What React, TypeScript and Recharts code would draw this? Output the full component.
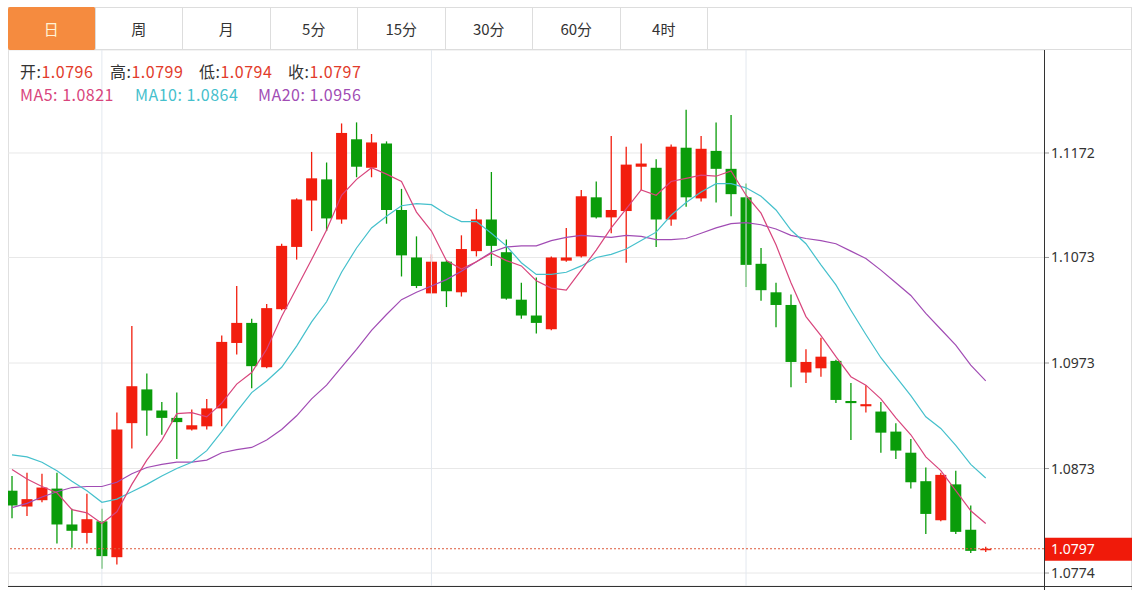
import React from "react";
import { ComposedChart, Bar, Line, XAxis, YAxis, CartesianGrid, ReferenceLine } from "recharts";

const RED = "#f21e0e";
const GREEN = "#0a9c0a";
const MA5_C = "#d8457c";
const MA10_C = "#45c0cc";
const MA20_C = "#a14cb4";

const tabs = ["日", "周", "月", "5分", "15分", "30分", "60分", "4时"];
const yTicks = [1.0774, 1.0873, 1.0973, 1.1073, 1.1172];
const monthLines = [6, 28, 49];
const lastPrice = 1.0797;

const opens = [1.0852, 1.0837, 1.0843, 1.0854, 1.0820, 1.0812, 1.0823, 1.0789, 1.0916, 1.0948,
  1.0928, 1.0921, 1.0910, 1.0913, 1.0930, 1.0992, 1.1011, 1.0969, 1.1024, 1.1083,
  1.1127, 1.1147, 1.1109, 1.1185, 1.1158, 1.1181, 1.1118, 1.1073, 1.1039, 1.1069,
  1.1040, 1.1079, 1.1109, 1.1078, 1.1033, 1.1018, 1.1005, 1.1070, 1.1074, 1.1130,
  1.1111, 1.1117, 1.1159, 1.1158, 1.1109, 1.1177, 1.1129, 1.1174, 1.1157, 1.1130,
  1.1067, 1.1040, 1.1028, 1.0964, 1.0968, 1.0975, 1.0937, 1.0932, 1.0927, 1.0908,
  1.0888, 1.0861, 1.0824, 1.0858, 1.0815, 1.0796];
const highs = [1.0866, 1.0869, 1.0868, 1.0869, 1.0835, 1.0849, 1.0835, 1.0926, 1.1008, 1.0963,
  1.0936, 1.0945, 1.0929, 1.0939, 1.0999, 1.1046, 1.1015, 1.1029, 1.1086, 1.1129,
  1.1173, 1.1163, 1.1200, 1.1201, 1.1190, 1.1183, 1.1138, 1.1093, 1.1076, 1.1070,
  1.1094, 1.1119, 1.1154, 1.1090, 1.1049, 1.1054, 1.1074, 1.1101, 1.1137, 1.1145,
  1.1188, 1.1178, 1.1181, 1.1166, 1.1180, 1.1213, 1.1188, 1.1201, 1.1208, 1.1143,
  1.1082, 1.1049, 1.1038, 1.0986, 1.0997, 1.0976, 1.0954, 1.0952, 1.0936, 1.0916,
  1.0901, 1.0874, 1.0869, 1.0871, 1.0838, 1.0799];
const lows = [1.0826, 1.0828, 1.0841, 1.0802, 1.0798, 1.0802, 1.0778, 1.0782, 1.0892, 1.0904,
  1.0905, 1.0882, 1.0909, 1.0910, 1.0913, 1.0981, 1.0949, 1.0968, 1.1023, 1.1071,
  1.1098, 1.1098, 1.1105, 1.1149, 1.1149, 1.1105, 1.1055, 1.1044, 1.1039, 1.1026,
  1.1036, 1.1074, 1.1065, 1.1033, 1.1015, 1.1001, 1.1004, 1.1069, 1.1073, 1.1110,
  1.1096, 1.1068, 1.1137, 1.1083, 1.1103, 1.1121, 1.1126, 1.1125, 1.1112, 1.1045,
  1.1032, 1.1007, 1.0950, 1.0954, 1.0960, 1.0935, 1.0900, 1.0926, 1.0888, 1.0882,
  1.0854, 1.0811, 1.0823, 1.0811, 1.0793, 1.0794];
const closes = [1.0838, 1.0844, 1.0855, 1.0820, 1.0814, 1.0825, 1.0790, 1.0910, 1.0951, 1.0928,
  1.0921, 1.0917, 1.0914, 1.0930, 1.0993, 1.1011, 1.0970, 1.1025, 1.1084, 1.1128,
  1.1148, 1.1110, 1.1191, 1.1159, 1.1182, 1.1118, 1.1075, 1.1046, 1.1069, 1.1041,
  1.1081, 1.1109, 1.1084, 1.1034, 1.1018, 1.1011, 1.1073, 1.1073, 1.1131, 1.1111,
  1.1118, 1.1161, 1.1162, 1.1109, 1.1178, 1.1130, 1.1176, 1.1157, 1.1133, 1.1066,
  1.1042, 1.1028, 1.0974, 1.0974, 1.0979, 1.0938, 1.0935, 1.0934, 1.0907, 1.0890,
  1.0860, 1.0830, 1.0867, 1.0813, 1.0795, 1.0797];
const ma5 = [1.0872, 1.0863, 1.0856, 1.0850, 1.0834, 1.0831, 1.0821, 1.0832, 1.0858, 1.0881,
  1.0900, 1.0925, 1.0926, 1.0922, 1.0935, 1.0953, 1.0964, 1.0986, 1.1017, 1.1044,
  1.1071, 1.1099, 1.1132, 1.1147, 1.1158, 1.1152, 1.1145, 1.1116, 1.1098, 1.1070,
  1.1062, 1.1069, 1.1077, 1.1070, 1.1065, 1.1051, 1.1044, 1.1042, 1.1061, 1.1080,
  1.1101, 1.1119, 1.1137, 1.1132, 1.1145, 1.1148, 1.1151, 1.1150, 1.1155, 1.1132,
  1.1115, 1.1085, 1.1049, 1.1017, 1.0999, 1.0979, 1.0960, 1.0952, 1.0939, 1.0921,
  1.0905, 1.0884, 1.0871, 1.0852, 1.0833, 1.0821];
const ma10 = [1.0886, 1.0884, 1.0879, 1.0871, 1.0861, 1.0852, 1.0841, 1.0844, 1.0851, 1.0858,
  1.0866, 1.0873, 1.0879, 1.0890, 1.0908, 1.0927, 1.0945, 1.0956, 1.0969, 1.0989,
  1.1012, 1.1031, 1.1059, 1.1082, 1.1101, 1.1112, 1.1122, 1.1124, 1.1123, 1.1114,
  1.1107, 1.1107, 1.1096, 1.1084, 1.1068, 1.1057, 1.1057, 1.1059, 1.1065, 1.1073,
  1.1076, 1.1081, 1.1089, 1.1097, 1.1113, 1.1125, 1.1135, 1.1143, 1.1143, 1.1139,
  1.1131, 1.1118, 1.1099, 1.1086, 1.1066, 1.1047, 1.1023, 1.1000, 1.0978, 1.0960,
  1.0942, 1.0922, 1.0911, 1.0895, 1.0877, 1.0864];
const ma20 = [1.0836, 1.0840, 1.0846, 1.0851, 1.0855, 1.0856, 1.0856, 1.0860, 1.0868, 1.0874,
  1.0877, 1.0879, 1.0879, 1.0881, 1.0888, 1.0891, 1.0893, 1.0900, 1.0910, 1.0923,
  1.0939, 1.0952, 1.0969, 1.0986, 1.1004, 1.1019, 1.1033, 1.1040, 1.1046, 1.1052,
  1.1060, 1.1069, 1.1078, 1.1083, 1.1084, 1.1084, 1.1089, 1.1092, 1.1094, 1.1093,
  1.1092, 1.1094, 1.1093, 1.1090, 1.1090, 1.1091, 1.1096, 1.1101, 1.1105, 1.1106,
  1.1104, 1.1100, 1.1094, 1.1091, 1.1089, 1.1086, 1.1079, 1.1072, 1.1061, 1.1049,
  1.1037, 1.1020, 1.1005, 1.0990, 1.0971, 1.0956];

const rows = opens.map((o, i) => ({
  i,
  o,
  h: highs[i],
  l: lows[i],
  c: closes[i],
  range: [lows[i], highs[i]],
  ma5: ma5[i],
  ma10: ma10[i],
  ma20: ma20[i],
}));

// eslint-disable-next-line @typescript-eslint/no-explicit-any
function Candle(props: any) {
  const { x, y, width, height, payload } = props;
  if (!payload) return null;
  const { o, h, l, c } = payload;
  const color = c >= o ? RED : GREEN;
  const top = Math.min(y, y + height);
  const span = Math.abs(height);
  const k = span / (h - l);
  const bTop = top + (h - Math.max(o, c)) * k;
  const bBot = top + (h - Math.min(o, c)) * k;
  const cx = x + width / 2;
  return (
    <g>
      <line x1={cx} x2={cx} y1={top} y2={top + span} stroke={color} strokeWidth={1.3} />
      <rect x={x} y={bTop} width={width} height={Math.max(1.5, bBot - bTop)} fill={color} />
    </g>
  );
}

// eslint-disable-next-line @typescript-eslint/no-explicit-any
function PriceTag(props: any) {
  const vb = props.viewBox;
  if (!vb) return null;
  const x0 = vb.x + vb.width + 1;
  return (
    <g>
      <rect x={x0} y={vb.y - 11} width={87} height={23} fill="#f01a0a" />
      <text x={x0 + 6} y={vb.y + 5} fill="#fff" fontSize={14} fontFamily="'Noto Sans', sans-serif">
        {lastPrice.toFixed(4)}
      </text>
    </g>
  );
}

const font = "'Noto Sans CJK SC', 'Noto Sans', sans-serif";

export default function App() {
  const ohlc = [
    ["开", opens[65]],
    ["高", highs[65]],
    ["低", lows[65]],
    ["收", closes[65]],
  ];
  const ohlcX = [20, 110, 199, 288];
  const maItems = [
    ["MA5", ma5[65], MA5_C, 20],
    ["MA10", ma10[65], MA10_C, 135],
    ["MA20", ma20[65], MA20_C, 258],
  ];
  return (
    <div style={{ position: "absolute", left: 0, top: 0, width: 1140, height: 590, background: "#fff", fontFamily: font, overflow: "hidden" }}>
      {/* tab bar */}
      <div style={{ position: "absolute", left: 8, top: 7, width: 1124, height: 43, borderTop: "1px solid #ddd", borderRight: "1px solid #ddd", borderBottom: "1px solid #ddd", boxSizing: "border-box", display: "flex" }}>
        {tabs.map((t, k) => (
          <div key={t} style={{
            width: 87.5, height: k === 0 ? 43 : 41, marginTop: k === 0 ? -1 : 0, boxSizing: "border-box",
            borderRight: "1px solid #ddd", background: k === 0 ? "#f58b3f" : "transparent",
            borderRadius: k === 0 ? 2 : 0,
            color: k === 0 ? "#fff3d6" : "#333", fontSize: 15, display: "flex", alignItems: "center", justifyContent: "center",
          }}>{t}</div>
        ))}
      </div>

      {/* frame lines */}
      <div style={{ position: "absolute", left: 8, top: 50, width: 1, height: 536, background: "#e0e0e0" }} />
      <div style={{ position: "absolute", left: 1131, top: 50, width: 1, height: 540, background: "#ddd" }} />

      <div style={{ position: "absolute", left: 8, top: 50 }}>
        <ComposedChart width={1124} height={540} data={rows} margin={{ top: 0, right: 0, bottom: 0, left: 0 }}>
          <CartesianGrid vertical={false} stroke="#e8e8e8" />
          <XAxis dataKey="i" type="number" domain={[-0.267, 68.89]} allowDataOverflow height={4} tick={false} tickLine={false} axisLine={false} />
          <YAxis orientation="right" type="number" domain={[1.07617, 1.12696]} allowDataOverflow ticks={yTicks} interval={0}
            width={88} axisLine={false} tickLine={{ stroke: "#999" }} tickSize={5} tickMargin={2}
            tick={{ fill: "#333", fontSize: 14, fontFamily: "'Noto Sans', sans-serif" }}
            tickFormatter={(v: number) => v.toFixed(4)} />
          {monthLines.map((m) => (
            <ReferenceLine key={m} x={m} stroke="#e3e8ef" />
          ))}
          <Bar dataKey="range" barSize={11} shape={<Candle />} isAnimationActive={false} />
          <Line type="linear" dataKey="ma20" stroke={MA20_C} strokeWidth={1.2} dot={false} isAnimationActive={false} />
          <Line type="linear" dataKey="ma10" stroke={MA10_C} strokeWidth={1.2} dot={false} isAnimationActive={false} />
          <Line type="linear" dataKey="ma5" stroke={MA5_C} strokeWidth={1.2} dot={false} isAnimationActive={false} />
          <ReferenceLine y={lastPrice} stroke="#de5a3c" strokeDasharray="2 2" label={<PriceTag />} />
        </ComposedChart>
      </div>

      {/* axis lines */}
      <div style={{ position: "absolute", left: 1044, top: 50, width: 1, height: 540, background: "#333" }} />
      <div style={{ position: "absolute", left: 8, top: 586, width: 1124, height: 1, background: "#333" }} />

      {/* legend text */}
      {ohlc.map(([k, v], n) => (
        <div key={k as string} style={{ position: "absolute", left: ohlcX[n], top: 61, fontSize: 16, letterSpacing: 0.5, whiteSpace: "nowrap", lineHeight: "20px" }}>
          <span style={{ color: "#333" }}>{k}:</span>
          <span style={{ color: "#e23b2b" }}>{(v as number).toFixed(4)}</span>
        </div>
      ))}
      {maItems.map(([k, v, col, x]) => (
        <div key={k as string} style={{ position: "absolute", left: x as number, top: 84, fontSize: 16, letterSpacing: 0.5, whiteSpace: "nowrap", lineHeight: "20px", color: col as string }}>
          {k}: {(v as number).toFixed(4)}
        </div>
      ))}
    </div>
  );
}
